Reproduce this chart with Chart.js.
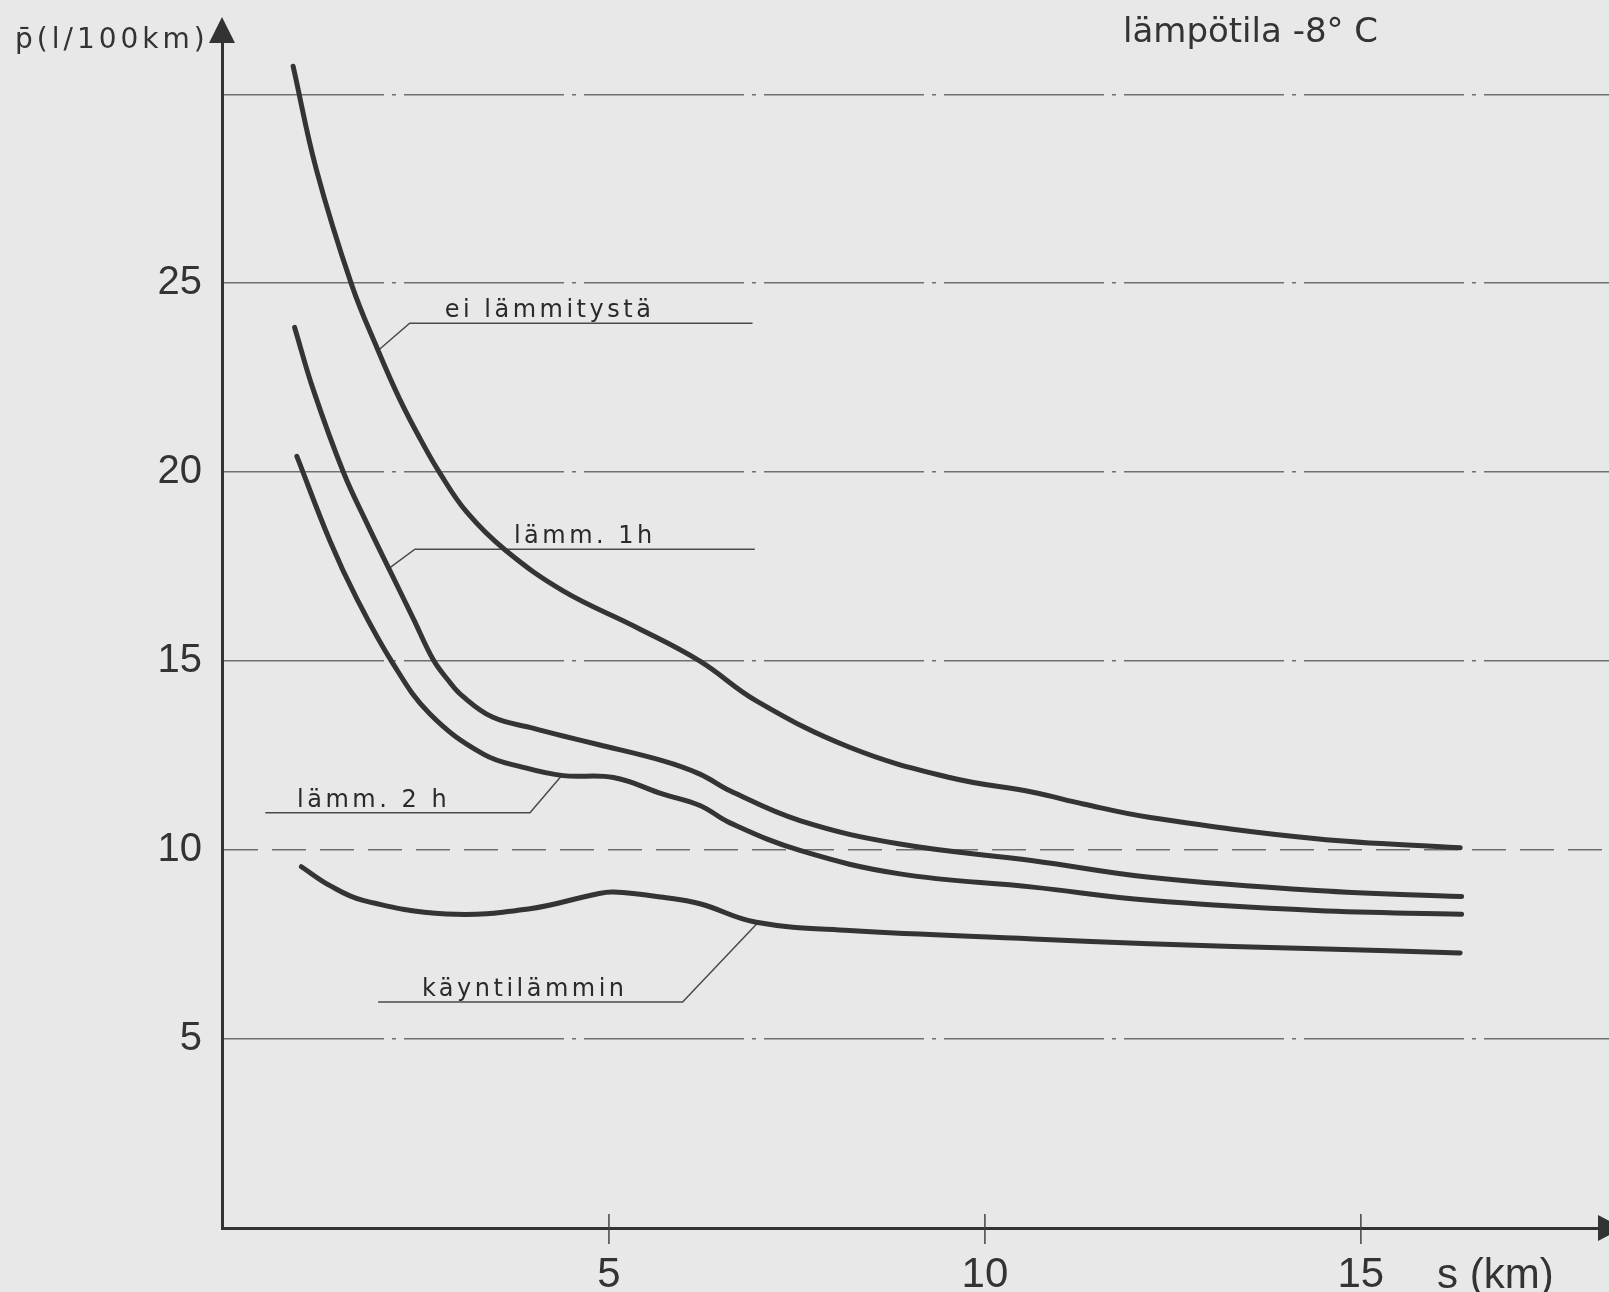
<!DOCTYPE html>
<html>
<head>
<meta charset="UTF-8">
<title>lämpötila -8° C</title>
<style>
    html, body { margin: 0; padding: 0; background: #e8e8e8; }
    #wrap { width: 1609px; height: 1292px; position: relative; }
</style>
</head>
<body>
<div id="wrap"><canvas id="fuelChart"></canvas></div>
<script src="https://cdn.jsdelivr.net/npm/chart.js"></script>
<script>
    // s (km) and p (l/100km)
    const sEi = [0.80, 1.11, 1.58, 1.93, 2.22, 2.49, 2.75, 3.11, 3.62, 4.39, 5.37, 6.21, 6.96, 8.2, 9.53, 10.64, 11.31, 12.18, 14.41, 16.32];
    const pEi = [30.74, 28.0, 24.95, 23.22, 21.92, 20.88, 19.98, 18.94, 17.94, 16.86, 15.89, 15.0, 13.95, 12.72, 11.92, 11.53, 11.22, 10.87, 10.3, 10.06];

    const s1h = [0.82, 1.07, 1.47, 1.78, 2.09, 2.40, 2.66, 2.86, 3.05, 3.45, 4.0, 4.39, 4.84, 5.72, 6.21, 6.61, 7.54, 8.87, 10.64, 12.19, 14.41, 16.34];
    const p1h = [23.83, 22.17, 19.99, 18.65, 17.38, 16.12, 15.05, 14.5, 14.08, 13.52, 13.22, 13.02, 12.8, 12.36, 12.01, 11.57, 10.78, 10.16, 9.72, 9.28, 8.93, 8.77];

    const s2h = [0.85, 1.29, 1.64, 2.12, 2.62, 3.33, 3.86, 4.39, 5.06, 5.72, 6.21, 6.61, 7.54, 8.87, 10.64, 12.18, 14.41, 16.34];
    const p2h = [20.42, 18.18, 16.68, 14.96, 13.6, 12.54, 12.19, 11.97, 11.92, 11.48, 11.18, 10.72, 9.99, 9.37, 9.02, 8.67, 8.4, 8.3];

    const sKay = [0.91, 1.29, 1.73, 2.84, 3.95, 4.84, 5.06, 5.72, 6.21, 6.96, 8.2, 10.64, 12.18, 14.41, 16.32];
    const pKay = [9.56, 9.06, 8.67, 8.31, 8.45, 8.84, 8.89, 8.75, 8.58, 8.09, 7.87, 7.65, 7.52, 7.39, 7.28];

    // leader lines from curve to label (curve point, knee, end)
    const leadEiS = [1.93, 2.35, 6.91], leadEiP = [23.22, 23.94, 23.94];
    const lead1hS = [2.07, 2.42, 6.94], lead1hP = [17.45, 17.96, 17.96];
    const lead2hS = [4.37, 3.95, 0.43], lead2hP = [11.97, 10.99, 10.99];
    const leadKayS = [6.98, 5.98, 1.93], leadKayP = [8.08, 5.98, 5.98];

    const curveLabels = ['ei lämmitystä', 'lämm. 1h', 'lämm. 2 h', 'käyntilämmin'];
    const labelS = [4.21, 4.68, 1.87, 3.88];
    const labelP = [23.94, 17.96, 10.99, 5.98];

    const xTicks = [5, 10, 15];
    const xTickLabels = ['5', '10', '15'];
    const yTicks = [5, 10, 15, 20, 25, 30];
    const yTickLabels = ['5', '10', '15', '20', '25', ''];

    const titleText = 'lämpötila -8° C';
    const yTitle = 'p\u0304(l/100km)';
    const xTitle = 's (km)';

    const ink = '#333333';
    const digitFont = "'Liberation Sans Narrow', 'Liberation Sans', sans-serif";
    const textFont = "'DejaVu Sans', sans-serif";

    function pts(xs, ys) {
        return xs.map((x, i) => ({ x: x, y: ys[i] }));
    }

    function curve(xs, ys) {
        return {
            data: pts(xs, ys),
            borderColor: '#343434',
            borderWidth: 5,
            borderCapStyle: 'round',
            borderJoinStyle: 'round',
            tension: 0.4,
            pointRadius: 0
        };
    }

    function leader(xs, ys) {
        return {
            data: pts(xs, ys),
            borderColor: '#4a4a4a',
            borderWidth: 1.5,
            tension: 0,
            pointRadius: 0
        };
    }

    const decor = {
        id: 'decor',
        afterDraw(chart) {
            const ctx = chart.ctx;
            const xs = chart.scales.x, ys = chart.scales.y;
            const area = chart.chartArea;
            ctx.save();

            // small tick marks crossing the s axis
            ctx.strokeStyle = '#444';
            ctx.lineWidth = 1.5;
            xs.ticks.forEach(t => {
                const px = xs.getPixelForValue(t.value);
                ctx.beginPath();
                ctx.moveTo(px, area.bottom - 14);
                ctx.lineTo(px, area.bottom + 16);
                ctx.stroke();
            });

            // arrow heads
            ctx.fillStyle = ink;
            ctx.beginPath();
            ctx.moveTo(area.left, 17);
            ctx.lineTo(area.left - 13, 43);
            ctx.lineTo(area.left + 13, 43);
            ctx.closePath();
            ctx.fill();
            ctx.beginPath();
            ctx.moveTo(area.right + 14, area.bottom);
            ctx.lineTo(area.right - 11, area.bottom - 13);
            ctx.lineTo(area.right - 11, area.bottom + 13);
            ctx.closePath();
            ctx.fill();

            ctx.fillStyle = '#2a2a2a';
            ctx.textBaseline = 'alphabetic';

            // curve names
            ctx.font = '24px ' + textFont;
            ctx.letterSpacing = '3.5px';
            ctx.textAlign = 'center';
            curveLabels.forEach((txt, i) => {
                ctx.fillText(txt, xs.getPixelForValue(labelS[i]), ys.getPixelForValue(labelP[i]) - 6);
            });

            // header and axis titles
            ctx.fillStyle = ink;
            ctx.textAlign = 'left';
            ctx.letterSpacing = '0px';
            ctx.font = '34px ' + textFont;
            ctx.fillText(titleText, 1123, 42);

            ctx.letterSpacing = '4px';
            ctx.font = '28px ' + textFont;
            ctx.fillText(yTitle, 15, 48);

            ctx.letterSpacing = '0px';
            ctx.font = '42px ' + digitFont;
            ctx.fillText(xTitle, 1437, 1288);

            ctx.restore();
        }
    };

    new Chart(document.getElementById('fuelChart'), {
        type: 'line',
        data: {
            datasets: [
                curve(sEi, pEi),
                curve(s1h, p1h),
                curve(s2h, p2h),
                curve(sKay, pKay),
                leader(leadEiS, leadEiP),
                leader(lead1hS, lead1hP),
                leader(lead2hS, lead2hP),
                leader(leadKayS, leadKayP)
            ]
        },
        options: {
            responsive: true,
            maintainAspectRatio: false,
            devicePixelRatio: 1,
            animation: false,
            layout: { padding: { top: 42, right: 0, bottom: 0, left: 0 } },
            plugins: {
                legend: { display: false },
                tooltip: { enabled: false }
            },
            scales: {
                x: {
                    type: 'linear',
                    position: 'bottom',
                    min: -0.146,
                    max: 18.3,
                    afterFit: (scale) => { scale.height = 64; },
                    afterBuildTicks: (scale) => { scale.ticks = xTicks.map(v => ({ value: v })); },
                    grid: { display: false, drawTicks: false },
                    border: { display: true, width: 3, color: ink },
                    ticks: {
                        padding: 22,
                        color: ink,
                        maxRotation: 0,
                        font: { family: digitFont, size: 42 },
                        callback: (v, i) => xTickLabels[i]
                    }
                },
                y: {
                    min: 0,
                    max: 31.33,
                    afterFit: (scale) => { scale.width = 222; },
                    afterBuildTicks: (scale) => { scale.ticks = yTicks.map(v => ({ value: v })); },
                    grid: { color: '#707070', lineWidth: 1.5, drawTicks: false },
                    border: {
                        display: true, width: 3, color: ink,
                        dash: (c) => (c.tick && c.tick.value === 10) ? [34, 14] : [160, 8, 4, 8]
                    },
                    ticks: {
                        padding: 20,
                        color: ink,
                        font: { family: digitFont, size: 40 },
                        callback: (v, i) => yTickLabels[i]
                    }
                }
            }
        },
        plugins: [decor]
    });
</script>
</body>
</html>
